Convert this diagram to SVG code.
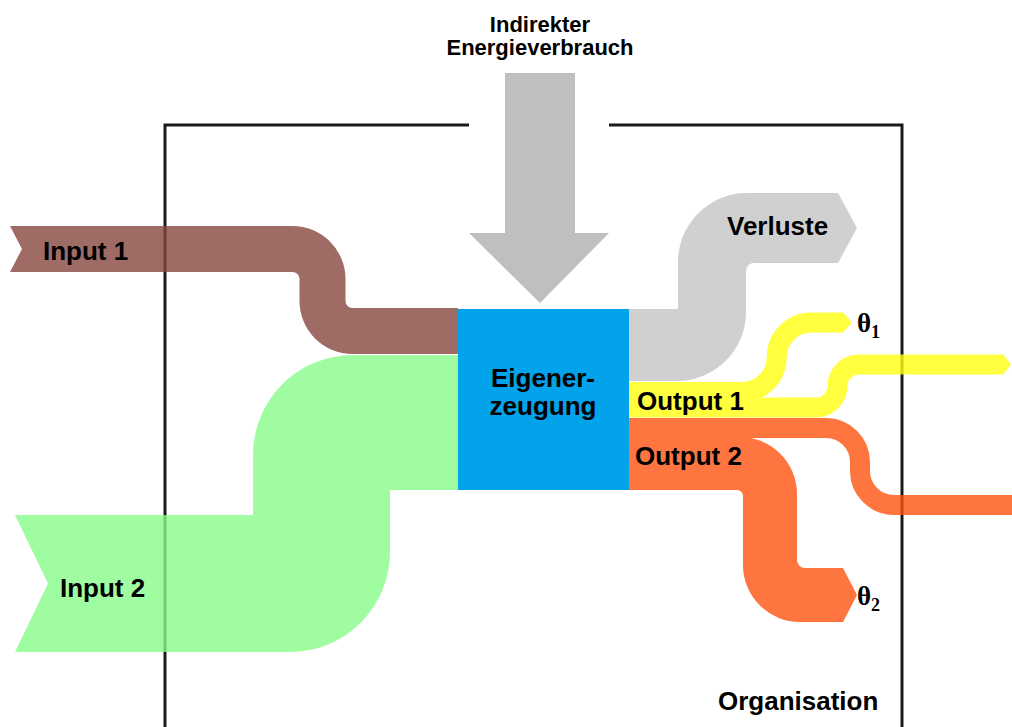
<svg xmlns="http://www.w3.org/2000/svg" width="1012" height="727" viewBox="0 0 1012 727">
<style>
.lbl{font-family:"Liberation Sans",Arial,sans-serif;font-weight:bold;font-size:26px;fill:#000}
.top{font-family:"Liberation Sans",Arial,sans-serif;font-weight:bold;font-size:22px;fill:#000;text-anchor:middle}
.theta{font-family:"Liberation Serif","Times New Roman",serif;font-weight:bold;font-size:27px;fill:#000}
.frame{stroke:#1a1a1a;stroke-width:3;fill:none}
.flow{opacity:0.8}
</style>
<rect width="1012" height="727" fill="#fff"/>
<g id="organisation">
  <path class="frame" d="M469 125 H165 V727 M609 125 H902 V727"/>
  <text class="lbl" x="718" y="710">Organisation</text>
</g>
<g id="connectors">
  <g id="input1" class="flow">
    <path fill="#86473f" d="M10 226 H292.5 A53 53 0 0 1 345.5 279 V301 A7 7 0 0 0 352.5 308 H458 V354 H352.5 A53 53 0 0 1 299.5 301 V279 A7 7 0 0 0 292.5 272 H10 L22 249 Z"/>
  </g>
  <g id="input2" class="flow">
    <path fill="#88fb88" d="M15 515 H253 V455 A100 100 0 0 1 353 355 H458 V490 H390 V552 A100 100 0 0 1 290 652 H15 L48 583.5 Z"/>
  </g>
  <g id="verluste" class="flow">
    <path fill="#c4c4c4" d="M628 309 H678 V262 A69 69 0 0 1 747 193 H838 L857 228 L838 263 H754 A8 8 0 0 0 746 271 V312 A69 69 0 0 1 677 381 H628 Z"/>
  </g>
  <g id="output1" class="flow">
    <path fill="none" stroke="#ffff10" stroke-width="20" d="M628 392 H742 A34.75 34.75 0 0 0 776.75 357.25 A34.75 34.75 0 0 1 811.5 322.5 H844"/>
    <polygon fill="#ffff10" points="843,312.5 852,322.5 843,332.5"/>
    <path fill="none" stroke="#ffff10" stroke-width="20" d="M628 407.5 H816 A21.5 21.5 0 0 0 837.5 386 A21.5 21.5 0 0 1 859 364.5 H1004"/>
    <polygon fill="#ffff10" points="1003,354.5 1011,364.5 1003,374.5"/>
  </g>
  <g id="output2" class="flow">
    <rect x="628" y="418" width="114" height="72" fill="#ff5310"/>
    <path fill="none" stroke="#ff5310" stroke-width="20" d="M628 428 H826 A34 34 0 0 1 860 462 V471 A34 34 0 0 0 894 505 H1012"/>
    <path fill="#ff5310" d="M628 437 H740 A57 57 0 0 1 797 494 V560 A8 8 0 0 0 805 568 H843 L857 595 L843 622 H800 A57 57 0 0 1 743 565 V496 A6 6 0 0 0 737 490 H628 Z"/>
  </g>
  <g id="indirekt">
    <polygon fill="#bfbfbf" points="505,73 575,73 575,233 609,233 540,303 469,233 505,233"/>
  </g>
</g>
<g id="eigenerzeugung">
  <rect x="458" y="309" width="171" height="181" fill="#02a3ea"/>
  <text class="lbl" x="543" y="387" text-anchor="middle">Eigener-</text>
  <text class="lbl" x="543" y="415" text-anchor="middle">zeugung</text>
</g>
<g id="labels">
  <text class="top" x="540" y="32">Indirekter</text>
  <text class="top" x="540" y="55">Energieverbrauch</text>
  <text class="lbl" x="43" y="260">Input 1</text>
  <text class="lbl" x="60" y="597">Input 2</text>
  <text class="lbl" x="727" y="235">Verluste</text>
  <text class="lbl" x="637" y="410">Output 1</text>
  <text class="lbl" x="635" y="465">Output 2</text>
  <text class="theta" x="857" y="332">θ<tspan font-size="18" dy="6">1</tspan></text>
  <text class="theta" x="857" y="605">θ<tspan font-size="18" dy="6">2</tspan></text>
</g>
</svg>
